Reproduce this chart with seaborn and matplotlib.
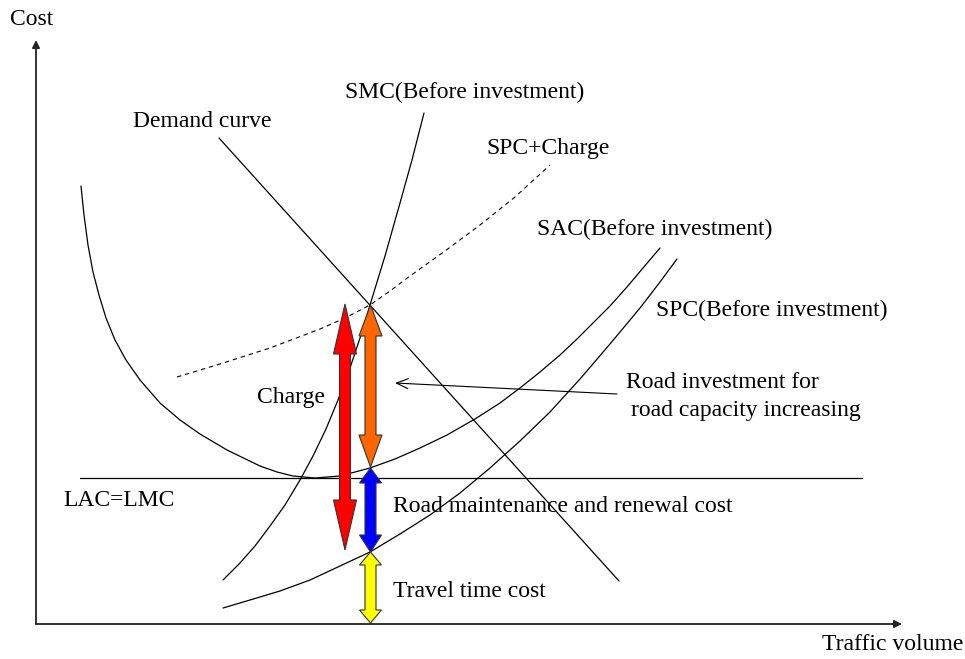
import matplotlib
matplotlib.use("Agg")
import matplotlib.pyplot as plt
from matplotlib.patches import Polygon
import numpy as np
import pandas as pd
import seaborn as sns

sns.set_theme(style="white")
plt.rcParams["font.family"] = ["Liberation Serif", "DejaVu Serif"]

# ---- data (traffic volume, cost) ----
demand_vol = [183, 583]
demand_cost = [486, 43]

smc_vol = [187, 204, 219, 234, 249, 264, 277, 290, 302, 314, 326, 334, 349, 364, 376, 388]
smc_cost = [44, 61, 78, 98, 119, 144, 168, 195, 224, 256, 292, 319, 368, 421, 464, 511]

spc_charge_vol = [141, 184, 234, 284, 309, 334, 354, 374, 409, 444, 479, 514]
spc_charge_cost = [247, 260, 276, 295, 306, 319, 333, 348, 373, 399, 427, 459]

sac_vol = [45, 48, 52, 57, 63, 70, 79, 90, 104, 124, 144, 164, 191, 224, 241, 257, 279,
           304, 334, 359, 384, 411, 439, 464, 484, 504, 524, 541, 557, 574, 591, 607, 624]
sac_cost = [438, 409, 379, 352, 329, 306, 284, 264, 244, 221, 204, 190, 174, 158, 152, 148, 146,
            148, 156, 165, 176, 189, 205, 221, 236, 252, 269, 285, 301, 318, 337, 356, 376]

spc_vol = [187, 214, 244, 274, 304, 334, 364, 394, 424, 454, 484, 514, 544, 574, 604, 624, 641]
spc_cost = [16, 24, 33, 44, 58, 72, 90, 109, 131, 156, 183, 212, 245, 280, 316, 342, 365]

lac_vol = [44, 826]
lac_cost = [146, 146]

# equilibrium traffic volume and cost levels at it
q_eq = 334
level_eq = 319      # SMC = demand
level_sac = 157     # SAC at q_eq
level_spc = 72      # SPC at q_eq
level_zero = 1
level_charge_bottom = 74

fig = plt.figure(figsize=(9.65, 6.59), dpi=100)
ax = fig.add_axes([0, 0, 1, 1])
ax.set_xlim(-36, 929)
ax.set_ylim(-35, 624)
ax.axis("off")

lw = 0.9
for xs, ys in [(demand_vol, demand_cost), (smc_vol, smc_cost), (sac_vol, sac_cost),
               (spc_vol, spc_cost), (lac_vol, lac_cost)]:
    sns.lineplot(x=xs, y=ys, ax=ax, color="black", lw=lw, sort=False, estimator=None)
sns.lineplot(x=spc_charge_vol, y=spc_charge_cost, ax=ax, color="black", lw=0.8,
             sort=False, estimator=None, linestyle=(0, (4, 3.5)))

# axes with arrows
ax.annotate("", xy=(0, 584), xytext=(0, 0),
            arrowprops=dict(arrowstyle="-|>", lw=1.3, color="#222222", mutation_scale=11,
                            shrinkA=0, shrinkB=0))
ax.annotate("", xy=(866, 0), xytext=(0, 0),
            arrowprops=dict(arrowstyle="-|>", lw=1.3, color="#222222", mutation_scale=11,
                            shrinkA=0, shrinkB=0))


def double_arrow(x, y_top, y_bot, hl_top, hl_bot, hw, sw, color):
    pts = [
        (x, y_top),
        (x + hw / 2, y_top - hl_top),
        (x + sw / 2, y_top - hl_top),
        (x + sw / 2, y_bot + hl_bot),
        (x + hw / 2, y_bot + hl_bot),
        (x, y_bot),
        (x - hw / 2, y_bot + hl_bot),
        (x - sw / 2, y_bot + hl_bot),
        (x - sw / 2, y_top - hl_top),
        (x - hw / 2, y_top - hl_top),
    ]
    ax.add_patch(Polygon(pts, closed=True, facecolor=color, edgecolor="#333333",
                         lw=0.8, zorder=5))


double_arrow(q_eq - 25, level_eq + 1, level_charge_bottom, 50, 50, 23, 11, "#FF0000")
double_arrow(q_eq + 0.5, level_eq, level_sac, 31, 32, 23, 11, "#FF6600")
double_arrow(q_eq + 0.5, level_sac - 1, level_spc, 15, 17, 22, 11, "#0000FF")
double_arrow(q_eq + 0.5, level_spc, level_zero, 13, 13, 22, 11, "#FFFF00")

# pointer for road investment
ax.annotate("", xy=(359, 241), xytext=(581, 230),
            arrowprops=dict(arrowstyle="->,head_length=0.7,head_width=0.3", lw=0.8,
                            color="black", shrinkA=0, shrinkB=0))

# labels (pixel positions: left x, baseline y)
W, H = 965, 659
labels = [
    ("Cost", 10, 25),
    ("Demand curve", 133, 127),
    ("SMC(Before investment)", 345, 98),
    ("SPC+Charge", 486, 154),
    ("SAC(Before investment)", 537, 235),
    ("SPC(Before investment)", 656, 316),
    ("Road investment for", 626, 388),
    ("road capacity increasing", 631, 416),
    ("Charge", 257, 403),
    ("LAC=LMC", 63, 506),
    ("Road maintenance and renewal cost", 393, 512),
    ("Travel time cost", 393, 597),
    ("Traffic volume", 822, 650),
]
for s, px, py in labels:
    fig.text(px / W, 1 - py / H, s, fontsize=17, ha="left", va="baseline",
             family=["Liberation Serif", "DejaVu Serif"], color="black")

fig.savefig("out.png", dpi=100)
